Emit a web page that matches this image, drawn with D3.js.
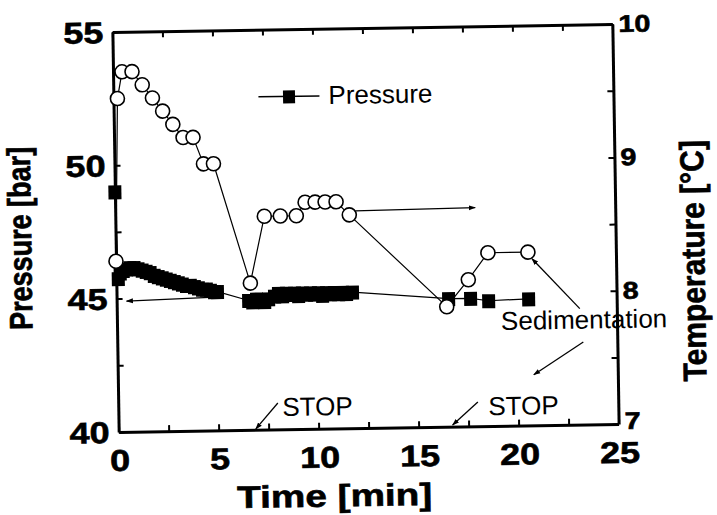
<!DOCTYPE html>
<html>
<head>
<meta charset="utf-8">
<script src="https://cdn.jsdelivr.net/npm/d3@7"></script>
<style>
  body { margin: 0; background: #fff; }
  text { font-family: Arial, "Liberation Sans", Helvetica, sans-serif; fill: #000; }
  text.heavy { font-weight: bold; stroke: #000; stroke-width: 0.6px; }
</style>
</head>
<body>
<div id="chart"></div>
<script>
// ---- data ----
const tempTime = [0, 0.2, 0.45, 0.95, 1.45, 1.95, 2.45, 2.95, 3.45, 3.95, 4.45, 4.95,
  6.7, 7.45, 8.25, 9.05, 9.5, 10.0, 10.5, 11.05, 11.7, 16.5, 17.6, 18.6, 20.6];
const temperature = [8.28, 9.5, 9.7, 9.7, 9.6, 9.5, 9.4, 9.3, 9.2, 9.2, 9.0, 9.0,
  8.1, 8.6, 8.6, 8.6, 8.7, 8.7, 8.7, 8.7, 8.6, 7.9, 8.1, 8.3, 8.3];

const pressTime = [0, 0.1, 0.2, 0.35, 0.5, 0.7, 0.9, 1.1, 1.3, 1.5, 1.7, 1.9, 2.1, 2.3, 2.5, 2.7, 2.9,
  3.1, 3.3, 3.5, 3.7, 3.9, 4.1, 4.3, 4.5, 4.7, 4.9, 5.05,
  6.6, 6.8, 7.0, 7.2, 7.4, 7.6, 7.9, 8.1, 8.3, 8.5, 8.7, 8.9, 9.1, 9.3, 9.5, 9.7, 9.9,
  10.1, 10.3, 10.5, 10.7, 10.9, 11.1, 11.3, 11.5, 11.8,
  16.6, 17.7, 18.6, 20.6];
const pressure = [49.0, 45.75, 45.95, 46.05, 46.1, 46.15, 46.15, 46.1, 46.05, 46.0, 45.95, 45.85, 45.8,
  45.75, 45.7, 45.65, 45.6, 45.55, 45.5, 45.45, 45.45, 45.4, 45.35, 45.3, 45.3, 45.25, 45.2, 45.2,
  44.85, 44.8, 44.9, 44.85, 44.8, 44.9, 45.0, 45.1, 45.0, 45.1, 45.05, 45.1, 45.0, 45.1, 45.05, 45.1, 45.05,
  45.1, 45.0, 45.1, 45.05, 45.1, 45.05, 45.1, 45.05, 45.1,
  44.8, 44.8, 44.7, 44.75];

const xTicks = [0, 2.5, 5, 7.5, 10, 12.5, 15, 17.5, 20, 22.5, 25];
const xLabels = [0, 5, 10, 15, 20, 25];
const pTicks = [40, 42.5, 45, 47.5, 50, 52.5, 55];
const pLabels = [40, 45, 50, 55];
const tTicks = [7, 7.5, 8, 8.5, 9, 9.5, 10];
const tLabels = [7, 8, 9, 10];

// annotations: [t0, v0, t1, v1] (arrow head at the second point)
const tempArrow = [12.0, 8.63, 18.0, 8.64];        // on temperature scale
const pressArrow = [5.2, 45.0, 0.5, 44.9];         // on pressure scale
const sedArrows = [[23.15, 7.87, 20.8, 8.25], [23.3, 7.62, 20.8, 7.38]]; // temperature scale
const stopLabels = [[8.2, 40.5], [18.5, 40.41]];   // pressure scale, text start
const stopArrows = [[7.98, 40.99, 6.86, 40.03], [17.98, 40.91, 16.7, 40.06]];
const sedLabel = [19.2, 7.72];

// ---- layout ----
const W = 717, H = 515;
const margin = { left: 115.5, right: 615.5, top: 28, bottom: 428 };
const stretch = 1.2;

const svg = d3.select("#chart").append("svg")
  .attr("width", W).attr("height", H)
  .style("background", "#fff");

svg.append("defs").append("marker")
  .attr("id", "head")
  .attr("viewBox", "0 0 10 10")
  .attr("refX", 9).attr("refY", 5)
  .attr("markerWidth", 7).attr("markerHeight", 7)
  .attr("markerUnits", "userSpaceOnUse")
  .attr("orient", "auto")
  .append("path").attr("d", "M0,1.5 L10,5 L0,8.5 Z").attr("fill", "#000");

// the scan is slightly tilted
const cx = (margin.left + margin.right) / 2, cy = (margin.top + margin.bottom) / 2;
const g = svg.append("g")
  .attr("transform", `rotate(-0.9, ${cx}, ${cy})`);

const x = d3.scaleLinear().domain([0, 25]).range([margin.left, margin.right]);
const yP = d3.scaleLinear().domain([40, 55]).range([margin.bottom, margin.top]);
const yT = d3.scaleLinear().domain([7, 10]).range([margin.bottom, margin.top]);

// axes (ticks inward)
function styleAxis(a) {
  a.select(".domain").attr("stroke", "#000").attr("stroke-width", 3);
  a.selectAll(".tick line").attr("stroke", "#000").attr("stroke-width", 2);
  a.selectAll(".tick text").remove();
}
styleAxis(g.append("g").attr("transform", `translate(0,${margin.bottom})`)
  .call(d3.axisBottom(x).tickValues(xTicks).tickSizeInner(-6).tickSizeOuter(0)));
styleAxis(g.append("g").attr("transform", `translate(0,${margin.top})`)
  .call(d3.axisTop(x).tickValues(xTicks).tickSizeInner(-6).tickSizeOuter(0)));
styleAxis(g.append("g").attr("transform", `translate(${margin.left},0)`)
  .call(d3.axisLeft(yP).tickValues(pTicks).tickSizeInner(-6).tickSizeOuter(0)));
styleAxis(g.append("g").attr("transform", `translate(${margin.right},0)`)
  .call(d3.axisRight(yT).tickValues(tTicks).tickSizeInner(-6).tickSizeOuter(0)));

// tick labels
g.selectAll(".xl").data(xLabels).enter().append("text")
  .attr("class", "heavy")
  .attr("transform", d => `translate(${x(d) + 1},${margin.bottom + 39}) scale(${stretch},1)`)
  .attr("text-anchor", "middle")
  .style("font-size", "30px")
  .text(d => d);
g.selectAll(".pl").data(pLabels).enter().append("text")
  .attr("class", "heavy")
  .attr("transform", d => `translate(${margin.left - 9},${yP(d) + 11}) scale(${stretch},1)`)
  .attr("text-anchor", "end")
  .style("font-size", "30px")
  .text(d => d);
g.selectAll(".tl").data(tLabels).enter().append("text")
  .attr("class", "heavy")
  .attr("transform", d => `translate(${margin.right + 6},${yT(d) + (d === 7 ? 5 : 8)}) scale(${stretch},1)`)
  .attr("text-anchor", "start")
  .style("font-size", "24px")
  .text(d => d);

// axis titles
g.append("text")
  .attr("class", "heavy")
  .attr("transform", `translate(${cx - 35},${margin.bottom + 78}) scale(1.25,1)`)
  .attr("text-anchor", "middle")
  .style("font-size", "31px")
  .text("Time [min]");
g.append("text")
  .attr("class", "heavy")
  .attr("transform", `translate(31,${cy + 5}) scale(${stretch},1) rotate(-90)`)
  .attr("text-anchor", "middle")
  .style("font-size", "27px")
  .text("Pressure [bar]");
g.append("text")
  .attr("class", "heavy")
  .attr("transform", `translate(704,${cy + 38}) scale(1.1,1) rotate(-90)`)
  .attr("text-anchor", "middle")
  .style("font-size", "30px")
  .text("Temperature [°C]");

// series
const tempData = tempTime.map((t, i) => ({ t: t, v: temperature[i] }));
const pressData = pressTime.map((t, i) => ({ t: t, v: pressure[i] }));

g.append("path").datum(pressData)
  .attr("fill", "none").attr("stroke", "#000").attr("stroke-width", 1.2)
  .attr("d", d3.line().x(d => x(d.t)).y(d => yP(d.v)));
g.append("path").datum(tempData)
  .attr("fill", "none").attr("stroke", "#000").attr("stroke-width", 1.2)
  .attr("d", d3.line().x(d => x(d.t)).y(d => yT(d.v)));

const sq = 13;
g.selectAll(".sq").data(pressData).enter().append("rect")
  .attr("x", d => x(d.t) - sq / 2).attr("y", d => yP(d.v) - sq / 2)
  .attr("width", sq).attr("height", sq + 1)
  .attr("fill", "#000");

g.selectAll(".ci").data(tempData).enter().append("circle")
  .attr("cx", d => x(d.t)).attr("cy", d => yT(d.v))
  .attr("r", 7)
  .attr("fill", "#fff").attr("stroke", "#000").attr("stroke-width", 1.6);

// arrows
function arrow(a, ys) {
  g.append("line")
    .attr("x1", x(a[0])).attr("y1", ys(a[1]))
    .attr("x2", x(a[2])).attr("y2", ys(a[3]))
    .attr("stroke", "#000").attr("stroke-width", 1.3)
    .attr("marker-end", "url(#head)");
}
arrow(tempArrow, yT);
arrow(pressArrow, yP);
sedArrows.forEach(a => arrow(a, yT));
stopArrows.forEach(a => arrow(a, yP));

g.selectAll(".stop").data(stopLabels).enter().append("text")
  .attr("x", d => x(d[0])).attr("y", d => yP(d[1]))
  .style("font-size", "26px")
  .text("STOP");

g.append("text")
  .attr("x", x(sedLabel[0])).attr("y", yT(sedLabel[1]))
  .style("font-size", "26px")
  .text("Sedimentation");

// legend
const legY = yP(52.48);
g.append("line")
  .attr("x1", x(7.25)).attr("x2", x(10.3))
  .attr("y1", legY).attr("y2", legY)
  .attr("stroke", "#000").attr("stroke-width", 1.5);
g.append("rect")
  .attr("x", x(8.78) - 6).attr("y", legY - 6)
  .attr("width", 12).attr("height", 13).attr("fill", "#000");
g.append("text")
  .attr("x", x(10.75)).attr("y", yP(52.17))
  .style("font-size", "26px")
  .text("Pressure");
</script>
</body>
</html>
